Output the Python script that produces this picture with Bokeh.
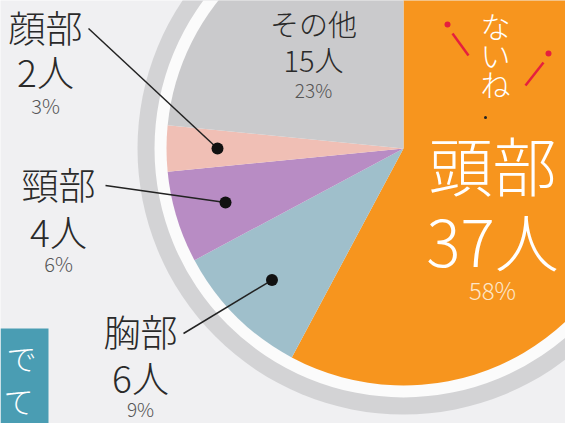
import math
from bokeh.plotting import figure
from bokeh.models import Range1d, ColumnDataSource
from bokeh.core.properties import value
from bokeh.embed import file_html
from bokeh.resources import INLINE

# ---- data ----
categories = ["頭部", "胸部", "頸部", "顔部", "その他"]
counts = [37, 6, 4, 2, 15]
percents = ["58%", "9%", "6%", "3%", "23%"]
colors = ["#f7951e", "#9fbfcb", "#b88cc4", "#f0bfb5", "#cacacc"]

W, H = 565, 423
FONT = "'Noto Sans CJK JP Light', 'Noto Sans CJK JP', sans-serif"

p = figure(width=W, height=H, output_backend="svg", toolbar_location=None,
           x_range=Range1d(0, W), y_range=Range1d(-H, 0),
           x_axis_location=None, y_axis_location=None, min_border=0)
p.grid.visible = False
p.outline_line_color = None
p.background_fill_color = "#f0f0f2"
p.border_fill_color = "#f0f0f2"

cx, cy = 403, -148
R = 237

# ring + white gap
p.circle(x=[cx], y=[cy], radius=266, fill_color="#d3d3d5", line_color=None)
p.circle(x=[cx], y=[cy], radius=249, fill_color="#fbfbfb", line_color=None)

total = sum(counts)
starts, ends, mids = [], [], []
a = math.pi / 2
for c in counts:
    span = 2 * math.pi * c / total
    starts.append(a)
    ends.append(a - span)
    mids.append(a - span / 2)
    a -= span

src = ColumnDataSource(dict(start=starts, end=ends, color=colors, cat=categories))
p.wedge(x=cx, y=cy, radius=R, start_angle="start", end_angle="end",
        direction="clock", fill_color="color", line_color=None, source=src)

# ---- decorations (teal box, vertical words, red accents) ----
p.quad(left=[0], right=[48], top=[-328], bottom=[-H], fill_color="#4a9db3", line_color=None)
p.text(x=[21, 18], y=[-356, -399], text=["で", "て"], text_font=value(FONT),
       text_font_size="30px", text_color="white", text_align="center", text_baseline="middle")
p.text(x=[495, 495, 495], y=[-24, -53, -82], text=["な", "い", "ね"], text_font=value(FONT),
       text_font_size="30px", text_color="white", text_align="center", text_baseline="middle")
p.segment(x0=[452, 543], y0=[-33, -62], x1=[468, 525], y1=[-55, -85],
          line_color="#e5203e", line_width=2.5)
p.scatter(x=[447, 548], y=[-24, -53], size=6, fill_color="#e5203e", line_color=None)
p.scatter(x=[485], y=[-117], size=3, fill_color="#222222", line_color=None)

# ---- labels ----
# category -> (x, name_y, count_y, pct_y, name_size, count_size, pct_size, name_color, pct_color)
label_layout = {
    "頭部": (492, -162, -238, -289, "64px", "64px", "24px", "#ffffff", "#fde6c8"),
    "その他": (313, -22, -58, -89, "29px", "29px", "19px", "#2a2a2a", "#555555"),
    "顔部": (45, -26, -70, -105, "37px", "37px", "20px", "#2a2a2a", "#555555"),
    "頸部": (58, -183, -230, -263, "37px", "37px", "20px", "#2a2a2a", "#555555"),
    "胸部": (140, -330, -376, -408, "37px", "37px", "19px", "#2a2a2a", "#555555"),
}
for cat, cnt, pct in zip(categories, counts, percents):
    x, ny, cy_, py, ns, cs, ps, col, pcol = label_layout[cat]
    p.text(x=[x], y=[ny], text=[cat], text_font=value(FONT), text_font_size=ns,
           text_color=col, text_align="center", text_baseline="middle")
    p.text(x=[x], y=[cy_], text=[f"{cnt}人"], text_font=value(FONT), text_font_size=cs,
           text_color=col, text_align="center", text_baseline="middle")
    p.text(x=[x], y=[py], text=[pct], text_font=value(FONT), text_font_size=ps,
           text_color=pcol, text_align="center", text_baseline="middle")

# leader lines for small slices
leader_start = {"顔部": (88, -28), "頸部": (105, -185), "胸部": (183, -333)}
DOT_R = 186
lx0, ly0, lx1, ly1 = [], [], [], []
for cat, m in zip(categories, mids):
    if cat in leader_start:
        sx, sy = leader_start[cat]
        lx0.append(sx); ly0.append(sy)
        lx1.append(cx + DOT_R * math.cos(m)); ly1.append(cy + DOT_R * math.sin(m))
p.segment(x0=lx0, y0=ly0, x1=lx1, y1=ly1, line_color="#222222", line_width=1.5)
p.scatter(x=lx1, y=ly1, size=12, fill_color="#111111", line_color=None)

open("out.html", "w").write(file_html(p, INLINE))
